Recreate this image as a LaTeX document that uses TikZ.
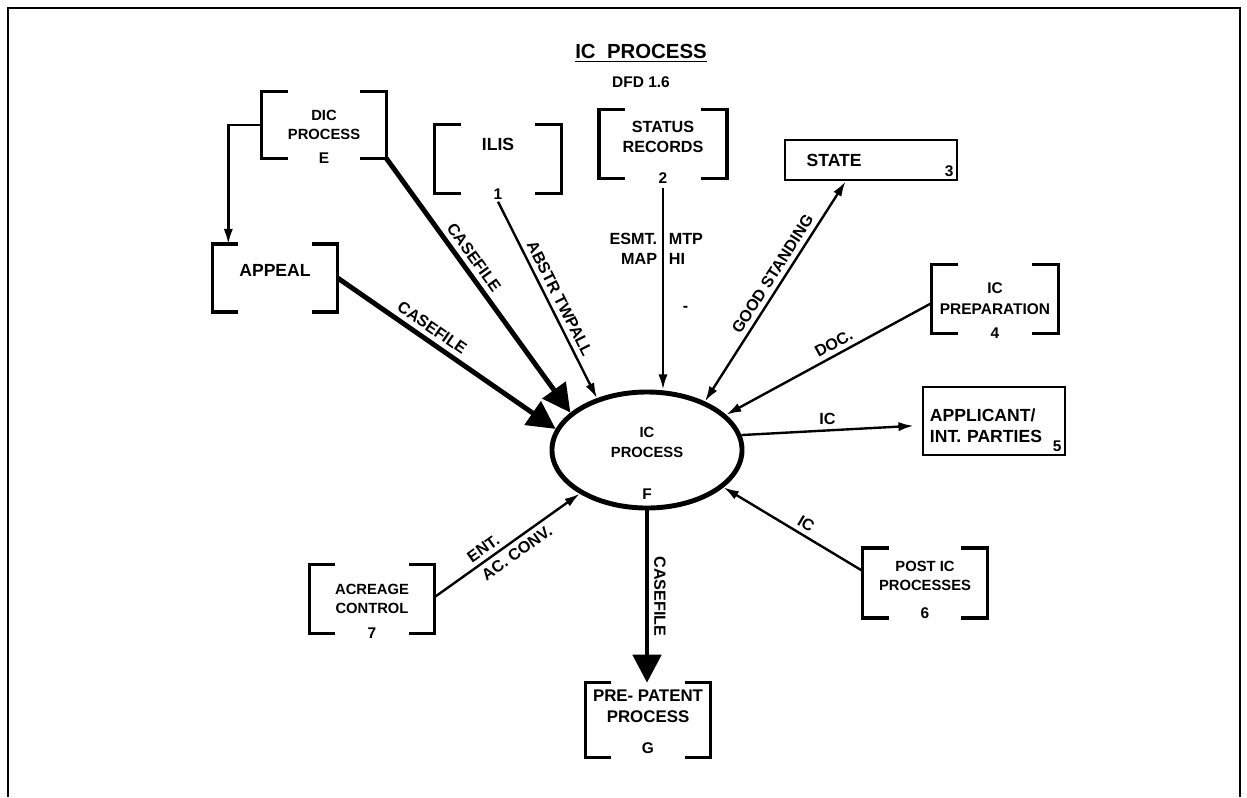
\documentclass[tikz,border=0pt]{standalone}
\usepackage{fontspec}
\setmainfont{Liberation Sans}
\usetikzlibrary{arrows.meta,shapes.geometric}
\tikzset{>={Latex[length=3.8mm,width=2.3mm]}}

\begin{document}
\begin{tikzpicture}[
    x=0.025cm, y=-0.025cm,
    every node/.style={font=\bfseries\fontsize{10.5}{14}\selectfont, align=center},
    big/.style={font=\bfseries\fontsize{12.5}{15}\selectfont},
    lbl/.style={font=\bfseries\fontsize{11.5}{14}\selectfont},
    num/.style={anchor=center, font=\bfseries\fontsize{11}{12}\selectfont},
    store/.style={inner sep=0pt},
    brk/.style={line width=2.5pt},
    box/.style={draw, line width=1.9pt},
    proc/.style={ellipse, draw, line width=3.5pt, minimum width=4.75cm, minimum height=2.9cm},
    flow/.style={line width=1.7pt, ->},
    bigflow/.style={line width=3.5pt, -{Triangle[length=7mm,width=7mm]}}
    ]
    \useasboundingbox (0,0) rectangle (1247,797);
    \draw[line width=1.9pt] (8,797) -- (8,8) -- (1240,8) -- (1240,797);

    % title
    \node[font=\bfseries\fontsize{14.5}{16}\selectfont] (title) at (641,53) {\underline{IC\ \ PROCESS}};
    \node[font=\bfseries\fontsize{11}{13}\selectfont] (dfd) at (641,82) {DFD 1.6};

    % process
    \node[proc, text depth=11pt, label={[num, yshift=0.4cm]south:F}] (icp) at (647,450) {IC\\PROCESS};

    % stores and externals
    \node[store, minimum width=3.1cm, minimum height=1.65cm, label={[num]south:E}] (dic) at (324,125) {DIC\\PROCESS};
    \node[store, big, minimum width=3.15cm, minimum height=1.72cm, text depth=21pt, label={[num]south:1}] (ilis) at (498,159) {ILIS};
    \node[store, font=\bfseries\fontsize{11.5}{14}\selectfont, minimum width=3.18cm, minimum height=1.7cm, text depth=10pt, label={[num]south:2}] (status) at (663,144) {STATUS\\RECORDS};
    \node[store, big, minimum width=3.12cm, minimum height=1.68cm, text depth=11pt] (appeal) at (275,278) {APPEAL};
    \node[store, font=\bfseries\fontsize{11}{15}\selectfont, minimum width=3.15cm, minimum height=1.7cm, label={[num]south:4}] (prep) at (995,299) {IC\\PREPARATION};
    \node[store, minimum width=3.12cm, minimum height=1.7cm, label={[num]south:7}] (acreage) at (372,599) {ACREAGE\\CONTROL};
    \node[store, minimum width=3.1cm, minimum height=1.73cm, text depth=10pt, label={[num, yshift=0.12cm]south:6}] (post) at (925,583) {POST IC\\PROCESSES};
    \node[store, font=\bfseries\fontsize{12}{15}\selectfont, minimum width=3.12cm, minimum height=1.85cm, text depth=20pt, label={[num, yshift=0.22cm]south:G}] (patent) at (648,720) {PRE- PATENT\\PROCESS};
    \node[box, minimum width=4.3cm, minimum height=1cm, label={[big, anchor=west, xshift=0.45cm]west:STATE}, label={[num, anchor=south east]south east:3}] (state) at (871,160) {};
    \node[box, big, minimum width=3.55cm, minimum height=1.7cm, text width=3.2cm, align=left, text depth=8pt, label={[num, anchor=south east]south east:5}] (appl) at (994,421) {APPLICANT/\\INT. PARTIES};

    \foreach \n in {dic,ilis,status,appeal,prep,acreage,post,patent}{
        \draw[brk] ([xshift=0.65cm]\n.north west) -| (\n.south west) -- ++(0.65cm,0);
        \draw[brk] ([xshift=-0.65cm]\n.north east) -| (\n.south east) -- ++(-0.65cm,0);
    }

    % flows
    \draw[flow] (dic.west) -| ([xshift=0.4cm]appeal.north west);
    \draw[bigflow] (dic.south east) -- (icp.154) node[lbl, pos=0.42, sloped, above] {CASEFILE};
    \draw[bigflow] (appeal.east) -- (icp.167) node[lbl, pos=0.4, sloped, above] {CASEFILE};
    \draw[flow] ([yshift=-0.2cm]ilis.south) -- (icp.134) node[lbl, pos=0.52, sloped, above] {ABSTR TWPALL};
    \draw[flow] ([yshift=-0.25cm]status.south) -- (status.south |- icp.north)
        node[lbl, pos=0.3, left, align=right] {ESMT.\\MAP}
        node[lbl, pos=0.3, right, align=left] {MTP\\HI}
        node[lbl, pos=0.6, right=0.35cm] {-};
    \draw[flow, <->] (icp.40) -- ([xshift=1.55cm]state.south west) node[lbl, pos=0.55, sloped, above] {GOOD STANDING};
    \draw[flow, <-] (icp.24) -- ([yshift=-0.1cm]prep.west) node[lbl, pos=0.55, sloped, above] {DOC.};
    \draw[flow] (icp.9) -- ([xshift=-0.2cm, yshift=-0.12cm]appl.west) node[lbl, midway, above] {IC};
    \draw[flow, <-] (icp.-26) -- ([yshift=0.3cm]post.west) node[lbl, pos=0.55, sloped, above] {IC};
    \draw[flow] ([yshift=0.05cm]acreage.east) -- (icp.213)
        node[lbl, pos=0.38, sloped, above] {ENT.}
        node[lbl, pos=0.52, sloped, below] {AC. CONV.};
    \draw[bigflow] (icp.south) -- (icp.south |- patent.north) node[lbl, midway, sloped, above] {CASEFILE};
\end{tikzpicture}
\end{document}
